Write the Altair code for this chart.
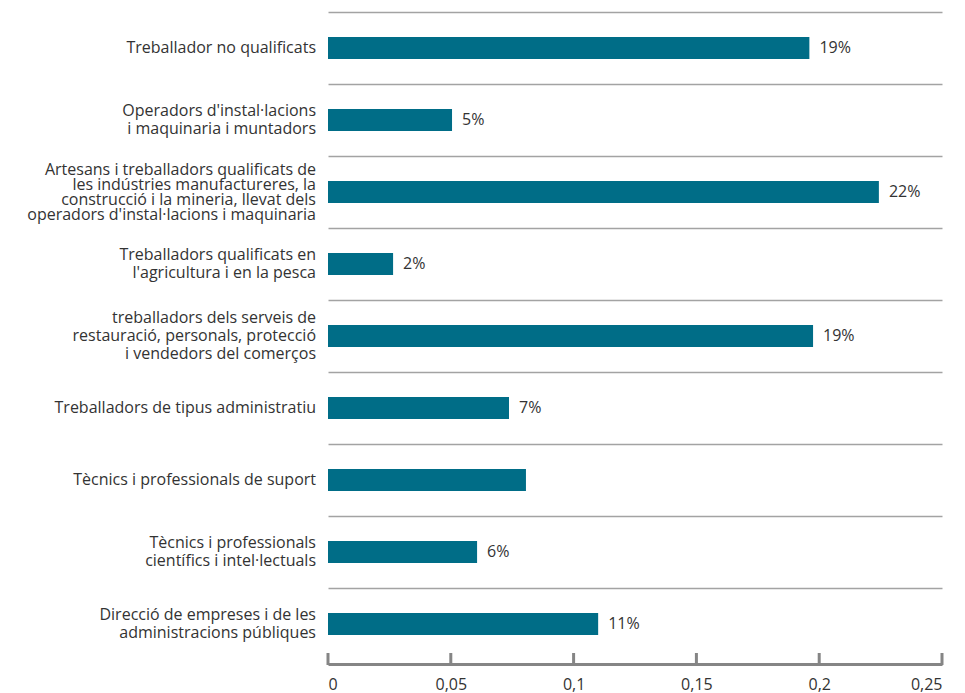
import altair as alt
import pandas as pd

categories = [
    "Treballador no qualificats",
    "Operadors d'instal·lacions|i maquinaria i muntadors",
    "Artesans i treballadors qualificats de|les indústries manufactureres, la|construcció i la mineria, llevat dels|operadors d'instal·lacions i maquinaria",
    "Treballadors qualificats en|l'agricultura i en la pesca",
    "treballadors dels serveis de|restauració, personals, protecció|i vendedors del comerços",
    "Treballadors de tipus administratiu",
    "Tècnics i professionals de suport",
    "Tècnics i professionals|científics i intel·lectuals",
    "Direcció de empreses i de les|administracions públiques",
]
values = [0.196, 0.0505, 0.2243, 0.0265, 0.1975, 0.0737, 0.0806, 0.0607, 0.110]
value_labels = ["19%", "5%", "22%", "2%", "19%", "7%", "", "6%", "11%"]
tick_values = [0, 0.05, 0.1, 0.15, 0.2, 0.25]

df = pd.DataFrame({"cat": categories, "value": values, "lab": value_labels})
ticks_df = pd.DataFrame({"t": tick_values})

W, H = 614, 648
FONT = "Open Sans"
TXT = "#333333"

y_enc = alt.Y(
    "cat:N",
    sort=categories,
    scale=alt.Scale(paddingInner=0, paddingOuter=0),
    axis=alt.Axis(
        labels=False, ticks=False, domain=False, title=None,
        grid=True, bandPosition=0, gridColor="#a3a3a3", gridWidth=1.5,
    ),
)
x_scale = alt.Scale(domain=[0, 0.25], nice=False)

bars = alt.Chart(df).mark_bar(color="#006D87", size=22).encode(
    x=alt.X(
        "value:Q",
        scale=x_scale,
        axis=alt.Axis(
            values=tick_values,
            labelExpr="replace(format(datum.value, '~g'), '.', ',')",
            title=None, grid=False, ticks=False, tickSize=0,
            domain=True, domainColor="#858585", domainWidth=3, offset=4,
            labelFont=FONT, labelFontSize=16, labelColor=TXT, labelPadding=12,
        ),
    ),
    y=y_enc,
)

vlabels = alt.Chart(df).mark_text(
    align="left", baseline="middle", dx=10, font=FONT, fontSize=16, color=TXT
).encode(x="value:Q", y=alt.Y("cat:N", sort=categories), text="lab:N")


def cat_layer(n, lh):
    return alt.Chart(df).transform_calculate(
        lines="split(datum.cat, '|')"
    ).transform_filter(
        f"length(datum.lines) == {n}"
    ).mark_text(
        align="right", baseline="middle", font=FONT, fontSize=16, color=TXT,
        lineHeight=lh, dy=-(n - 1) * lh / 2,
    ).encode(
        x=alt.value(-12),
        y=alt.Y("cat:N", sort=categories),
        text="lines:N",
    )


cat_layers = [cat_layer(1, 18), cat_layer(2, 18), cat_layer(3, 18), cat_layer(4, 15)]

tick_rules = alt.Chart(ticks_df).mark_rule(color="#858585", strokeWidth=3).encode(
    x=alt.X("t:Q", scale=x_scale), y=alt.value(H - 7), y2=alt.value(H + 5)
)

chart = alt.layer(bars, vlabels, *cat_layers, tick_rules).properties(
    width=W, height=H,
    background="white",
    autosize=alt.AutoSizeParams(type="none"),
    padding={"left": 320, "top": 4, "right": 15, "bottom": 33},
).configure_view(stroke=None)

chart.save("out.html", embed_options={"renderer": "svg", "actions": False})
